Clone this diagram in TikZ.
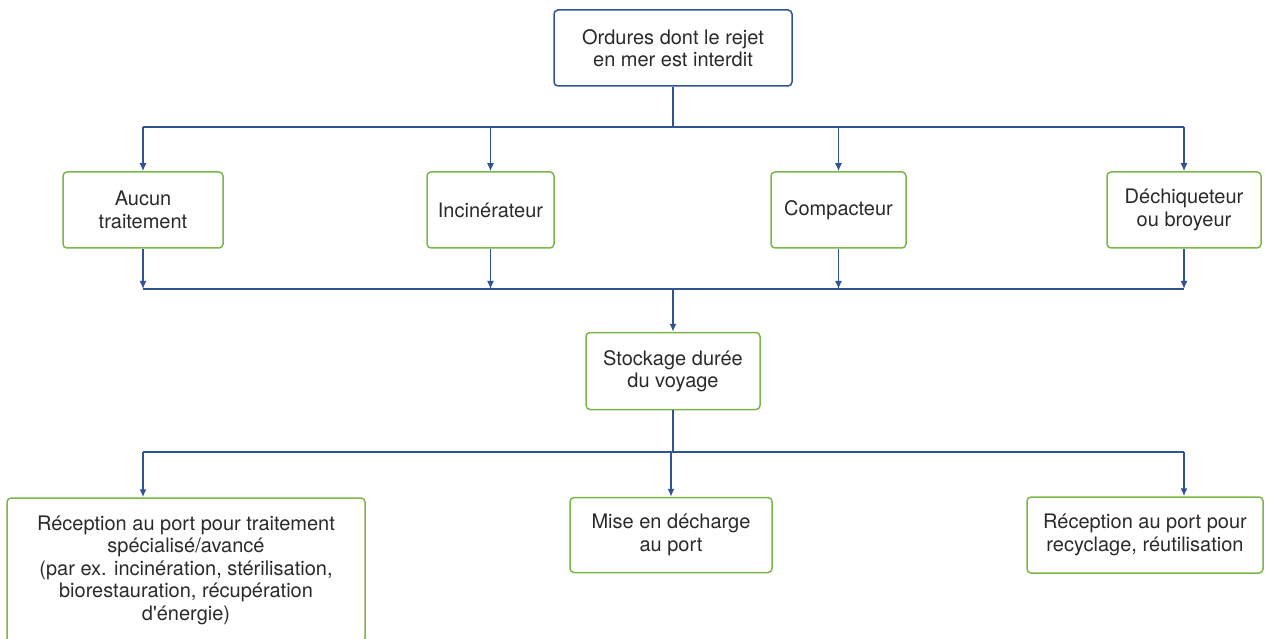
\documentclass[tikz,border=0pt]{standalone}
\usepackage{fontspec}
\setmainfont{TeX Gyre Heros}
\usetikzlibrary{arrows.meta}
\definecolor{lineblue}{HTML}{2F5496}
\definecolor{boxgreen}{HTML}{7AB648}
\definecolor{textgray}{HTML}{2A2A2A}
\begin{document}
\begin{tikzpicture}[x=1pt,y=-1pt,
  box/.style={draw=boxgreen, line width=1.5pt, rounded corners=4pt, align=center,
    inner sep=0pt, text=textgray, font=\fontsize{20}{22.5}\selectfont},
  topbox/.style={box, draw=lineblue},
  link/.style={draw=lineblue, line width=1.5pt},
  arr/.style={link, -{Latex[length=8pt,width=7pt]}}]
\useasboundingbox (0,0) rectangle (1267,639);
\clip (0,0) rectangle (1267,639);

% boxes
\node[topbox, minimum width=238pt, minimum height=76pt] (top) at (673,48)
  {Ordures dont le rejet\\en mer est interdit};
\node[box, minimum width=160pt, minimum height=76pt] (aucun) at (143,210)
  {Aucun\\traitement};
\node[box, minimum width=127pt, minimum height=76pt] (incin) at (490.5,210)
  {Incinérateur};
\node[box, minimum width=135pt, minimum height=76pt] (compact) at (838.5,210)
  {Compacteur};
\node[box, minimum width=154pt, minimum height=76pt] (dechiq) at (1184,210)
  {Déchiqueteur\\ou broyeur};
\node[box, minimum width=174pt, minimum height=77pt] (stock) at (673,371)
  {Stockage durée\\du voyage};
\node[box, minimum width=358pt, minimum height=144pt] (recepA) at (186,570)
  {Réception au port pour traitement\\spécialisé/avancé\\(par ex. incinération, stérilisation,\\biorestauration, récupération\\d\textquotesingle énergie)};
\node[box, minimum width=202pt, minimum height=75pt] (mise) at (671,535)
  {Mise en décharge\\au port};
\node[box, minimum width=236pt, minimum height=76pt] (recepB) at (1145,535)
  {Réception au port pour\\recyclage, réutilisation};

% junction points
\coordinate (t1) at (673,127);
\coordinate (t1L) at (143,127);
\coordinate (t1R) at (1184,127);
\coordinate (t2) at (673,289);
\coordinate (t2L) at (143,289);
\coordinate (t2R) at (1184,289);
\coordinate (t3) at (673,452);
\coordinate (t3L) at (143,452);
\coordinate (t3R) at (1184,452);

% top fan-out
\draw[link] (top.south) -- (t1);
\draw[link] (t1L) -- (t1R);
\foreach \n in {aucun,incin,compact,dechiq}
  \draw[arr] (\n.north |- t1) -- (\n.north);

% merge into storage
\foreach \n in {aucun,incin,compact,dechiq}
  \draw[arr] (\n.south) -- (\n.south |- t2);
\draw[link] (t2L) -- (t2R);
\draw[arr] (t2) -- (stock.north);

% bottom fan-out
\draw[link] (stock.south) -- (t3);
\draw[link] (t3L) -- (t3R);
\draw[arr] (t3L) -- (t3L |- recepA.north);
\draw[arr] (mise.north |- t3) -- (mise.north);
\draw[arr] (t3R) -- (t3R |- recepB.north);
\end{tikzpicture}
\end{document}
